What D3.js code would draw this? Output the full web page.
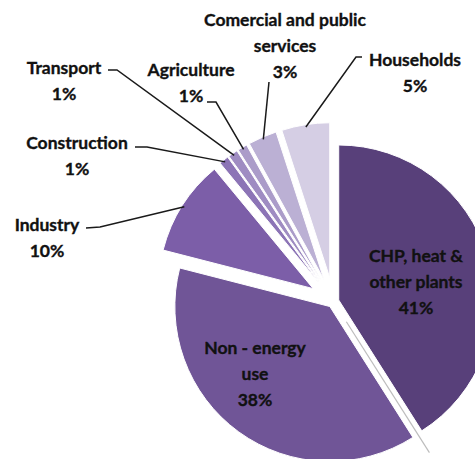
<!DOCTYPE html>
<html>
<head>
<meta charset="utf-8">
<script src="https://cdn.jsdelivr.net/npm/d3@7"></script>
<style>
  html, body { margin: 0; padding: 0; background: #fff; }
  svg { display: block; }
  text { font-family: Lato, "Open Sans", sans-serif; font-weight: bold; fill: #111; stroke: #111; stroke-width: 0.35px; }
</style>
</head>
<body>
<svg id="chart" width="475" height="459"></svg>
<script>
// Final energy consumption shares by sector (%), clockwise from 12 o'clock
const categories = ["CHP, heat & other plants", "Other", "Non - energy use", "Industry",
                    "Construction", "Transport", "Agriculture", "Comercial and public services", "Households"];
const shares = [41, 0, 38, 10, 1, 1, 1, 3, 5];
const percentLabels = ["41%", "", "38%", "10%", "1%", "1%", "1%", "3%", "5%"];

// how far each slice is pulled out from the centre (share of radius)
const explode = [0.035, 0.155, 0.04, 0.155, 0.155, 0.155, 0.155, 0.155, 0.155];
const colors = ["#58407a", "#bdbdbd", "#705597", "#7c5ea8", "#8c74b6", "#9f8cc2",
                "#ab9cc9", "#bbb0d4", "#d5cee4"];

// label text blocks: centre of first line, and where the leader line leaves the text
const labelLayout = {
  "CHP, heat & other plants":      { lines: ["CHP, heat &", "other plants"], x: 416, y: 256 },
  "Non - energy use":              { lines: ["Non - energy", "use"], x: 255, y: 348 },
  "Industry":                      { lines: ["Industry"], x: 47, y: 225, lead: [[86, 228], [100, 227]] },
  "Construction":                  { lines: ["Construction"], x: 77, y: 143, lead: [[135, 147], [147, 147]] },
  "Transport":                     { lines: ["Transport"], x: 64, y: 68, lead: [[108, 70], [117, 70]] },
  "Agriculture":                   { lines: ["Agriculture"], x: 191, y: 70, lead: [[207, 102], [216, 102]] },
  "Comercial and public services": { lines: ["Comercial and public", "services"], x: 285, y: 20, lead: [[269, 82]] },
  "Households":                    { lines: ["Households"], x: 415, y: 60, lead: [[362, 57], [356, 57]] }
};

const cx = 333.5, cy = 301.5, R = 155;
const lineGap = 26;

const svg = d3.select("#chart");

const pie = d3.pie().sort(null).value(d => d.value);
const data = categories.map((c, i) => ({ name: c, value: shares[i], pct: percentLabels[i], ex: explode[i], color: colors[i] }));
const arcs = pie(data);
const arc = d3.arc().innerRadius(0).outerRadius(R);

// unit direction for an angle measured clockwise from 12 o'clock
const dir = a => [Math.sin(a), -Math.cos(a)];

const g = svg.append("g").attr("transform", `translate(${cx},${cy})`);

// zero-width slices show up only as a hairline edge
arcs.filter(a => a.value === 0).forEach(a => {
  const [ux, uy] = dir(a.startAngle);
  const off = a.data.ex * R;
  g.append("line")
    .attr("x1", ux * off).attr("y1", uy * off)
    .attr("x2", ux * (off + R)).attr("y2", uy * (off + R))
    .attr("stroke", a.data.color).attr("stroke-width", 1.2);
});

// slices, each shifted out along its mid-angle
arcs.filter(a => a.value > 0).forEach(a => {
  const mid = (a.startAngle + a.endAngle) / 2;
  const [ux, uy] = dir(mid);
  const off = a.data.ex * R;
  g.append("path")
    .attr("d", arc(a))
    .attr("transform", `translate(${ux * off},${uy * off})`)
    .attr("fill", a.data.color)
    .attr("stroke", "#fff").attr("stroke-width", 1);
});

// labels and leader lines
arcs.filter(a => a.value > 0).forEach(a => {
  const L = labelLayout[a.data.name];
  const t = svg.append("text").attr("text-anchor", "middle").style("font-size", "17.5px");
  L.lines.concat([a.data.pct]).forEach((s, k) => {
    t.append("tspan").attr("x", L.x).attr("y", L.y + k * lineGap).attr("dy", "0.35em").text(s);
  });

  if (!L.lead) return;
  const mid = (a.startAngle + a.endAngle) / 2;
  const [ux, uy] = dir(mid);
  const tipR = a.data.ex * R + R * 0.985;
  const pts = L.lead.concat([[cx + ux * tipR, cy + uy * tipR]]);
  svg.append("path")
    .attr("d", d3.line()(pts))
    .attr("fill", "none").attr("stroke", "#1a1a1a").attr("stroke-width", 1.5);
});
</script>
</body>
</html>
